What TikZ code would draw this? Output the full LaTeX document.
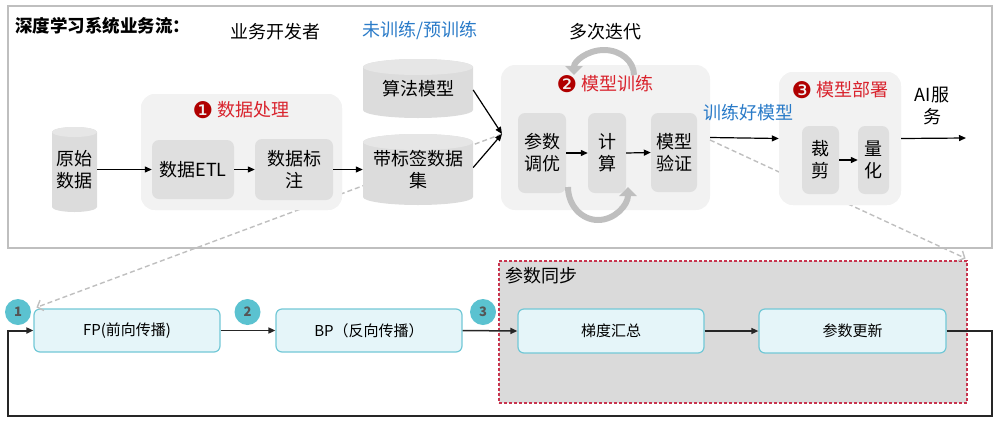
\documentclass[tikz,border=0pt]{standalone}
\usepackage{fontspec}
\setmainfont{Noto Sans CJK SC}
\newfontfamily\dejavu{DejaVu Sans}
\usetikzlibrary{arrows.meta}
\definecolor{framegray}{HTML}{BFBFBF}
\definecolor{grpfill}{HTML}{F2F2F2}
\definecolor{boxfill}{HTML}{DFDFDF}
\definecolor{cylbody}{HTML}{DCDCDC}
\definecolor{cyltop}{HTML}{E6E6E6}
\definecolor{bluetxt}{HTML}{2A7BC8}
\definecolor{redtxt}{HTML}{D9232D}
\definecolor{marker}{HTML}{B00000}
\definecolor{teal}{HTML}{5BC2D0}
\definecolor{numgray}{HTML}{555555}
\definecolor{lightblue}{HTML}{E5F5F9}
\definecolor{bordblue}{HTML}{72C8D6}
\definecolor{syncfill}{HTML}{DADADA}
\definecolor{syncbord}{HTML}{C8344E}
\definecolor{dark}{HTML}{262626}
\tikzset{
  txt/.style={align=center, font=\fontsize{18}{22}\selectfont, inner sep=0pt},
  grp/.style={fill=grpfill, rounded corners=14pt, inner sep=0pt},
  inbox/.style={fill=boxfill, rounded corners=7pt, inner sep=0pt, align=center, font=\fontsize{18}{22}\selectfont},
  grplabel/.style={text=redtxt, font=\fontsize{18}{22}\selectfont, inner sep=0pt},
  arr/.style={draw=black, line width=1.2pt, -{Triangle[length=7pt,width=6pt]}},
  barr/.style={draw=dark, line width=1.5pt, -{Triangle[length=7pt,width=6pt]}},
  gdash/.style={draw=framegray, line width=1.4pt, dash pattern=on 5pt off 3pt, -{Straight Barb[length=5pt,width=11pt]}},
  iter/.style={draw=framegray, line width=6pt, -{Triangle[length=9pt,width=17pt]}},
  flow/.style={fill=lightblue, draw=bordblue, line width=1.2pt, rounded corners=6pt, inner sep=0pt, font=\fontsize{15}{18}\selectfont},
  num/.style={circle, fill=teal, minimum size=26pt, inner sep=0pt, text=numgray, font=\fontsize{13}{15}\selectfont\bfseries},
}
\newcommand\mk[1]{{\dejavu\fontsize{23}{22}\selectfont\color{marker}\raisebox{-1.5pt}{#1}}}
\newcommand\cyl[7]{%
  \fill[cylbody] ({#2-#5},{-#3-#6}) -- ({#2-#5},{-#4+#6}) arc[start angle=180,end angle=360,x radius=#5pt,y radius=#6pt] -- ({#2+#5},{-#3-#6}) arc[start angle=0,end angle=180,x radius=#5pt,y radius=#6pt] -- cycle;
  \fill[cyltop] (#2,{-#3-#6}) ellipse[x radius=#5pt, y radius=#6pt];
  \node[txt, minimum width={2*#5pt}, minimum height={(#4-#3-2*#6)*1pt}] (#1) at (#2,{-(#3+#4)/2}) {#7};
}
\begin{document}
\begin{tikzpicture}[x=1pt,y=1pt]
\useasboundingbox (0,0) rectangle (1001,-424);
% frame
\node[draw=framegray, line width=2.5pt, minimum width=984pt, minimum height=242pt, inner sep=0pt] (frame) at (500,-127) {};
% titles
\node[anchor=west, font=\fontsize{17.5}{20}\selectfont\bfseries, inner sep=0pt] (title) at (15,-26) {深度学习系统业务流：};
\node[txt] (dev) at (275,-32) {业务开发者};
\node[txt, text=bluetxt] (untrained) at (420,-31) {未训练/预训练};
\node[txt] (iterlbl) at (605,-32) {多次迭代};
% coordinates
\coordinate (conv) at (502,-134);
% groups
\node[grp, minimum width=201pt, minimum height=116pt] (dp) at (241.5,-152) {};
\node[grp, minimum width=209pt, minimum height=145pt] (mt) at (605.5,-137.5) {};
\node[grp, minimum width=122pt, minimum height=133pt] (md) at (840,-138.5) {};
% dashed links (behind)
\coordinate (mtout) at (710,-140);
\node[flow, minimum width=186pt, minimum height=43pt] (fp) at (127,-330.5) {FP(前向传播)};
\node[fill=syncfill, draw=syncbord, line width=1.2pt, dash pattern=on 3pt off 2pt, minimum width=468pt, minimum height=142pt, inner sep=0pt] (sync) at (733,-332) {};
\draw[gdash] (conv) -- ([xshift=3pt,yshift=1pt]fp.north west);
\draw[gdash] (mtout) -- ([xshift=-2pt,yshift=2pt]sync.north east);
% redraw groups over dashed lines
\node[grp, minimum width=201pt, minimum height=116pt] (dp2) at (241.5,-152) {};
\node[grp, minimum width=122pt, minimum height=133pt] (md2) at (840,-138.5) {};
% cylinders
\cyl{raw}{74.5}{127}{212}{22.5}{5}{原始\\数据}
\cyl{algo}{418}{59}{118}{55}{8}{算法模型}
\cyl{lab}{418}{134}{205}{55}{8}{带标签数据\\集}
% group labels
\node[grplabel] (dpl) at (241,-110) {\mk{❶} 数据处理};
\node[grplabel] (mtl) at (605,-84) {\mk{❷} 模型训练};
\node[grplabel] (mdl) at (840,-90) {\mk{❸} 模型部署};
% inner boxes
\node[inbox, minimum width=82pt, minimum height=59pt] (etl) at (193,-169.5) {数据ETL};
\node[inbox, minimum width=78pt, minimum height=61pt] (mark) at (294,-169.5) {数据标\\注};
\node[inbox, minimum width=48pt, minimum height=80pt] (tune) at (542,-153) {参数\\调优};
\node[inbox, minimum width=38pt, minimum height=80pt] (calc) at (607,-153) {计\\算};
\node[inbox, minimum width=46pt, minimum height=79pt] (valid) at (674,-152.5) {模型\\验证};
\node[inbox, minimum width=37pt, minimum height=68pt] (prune) at (820.5,-160) {裁\\剪};
\node[inbox, minimum width=31pt, minimum height=68pt] (quant) at (873.5,-160) {量\\化};
% iteration arcs
\draw[iter] (634,-75) arc[start angle=0,end angle=180,x radius=30pt,y radius=25pt];
\draw[iter] (568,-187) arc[start angle=180,end angle=360,x radius=30pt,y radius=33pt];
% texts
\node[txt, text=bluetxt] (trained) at (748,-113) {训练好模型};
\node[txt] (ai) at (932,-106) {AI服\\务};
\coordinate (aiout) at (966,-138);
% arrows top
\draw[arr] (raw.east |- etl.west) -- (etl.west);
\draw[arr] (etl.east) -- (mark.west);
\draw[arr] (mark.east) -- (lab.east -| lab.west);
\draw[arr] ([yshift=-1.5pt]algo.east) -- (conv);
\draw[arr] ([yshift=2pt]lab.east) -- (conv);
\draw[arr] (tune.east) -- (calc.west);
\draw[arr] (calc.east) -- (valid.west);
\draw[arr] (mt.east) -- (md.west);
\draw[arr] (prune.east) -- (quant.west);
\draw[arr] (md.east) -- (aiout);
% bottom
\node[txt] (synclbl) at (541.5,-276) {参数同步};
\node[flow, minimum width=186pt, minimum height=43pt] (bp) at (369,-330.5) {BP（反向传播）};
\node[flow, minimum width=186pt, minimum height=44pt] (gs) at (611,-331) {梯度汇总};
\node[flow, minimum width=187pt, minimum height=44pt] (pu) at (852.5,-331) {参数更新};
\node[num] (n1) at (18,-312) {1};
\node[num] (n2) at (247.5,-312) {2};
\node[num] (n3) at (483,-312) {3};
\draw[barr] (fp.east) -- (bp.west);
\draw[barr] (bp.east) -- (gs.west);
\draw[barr] (gs.east) -- (pu.east -| pu.west);
\draw[draw=dark, line width=2pt, -{Triangle[length=7pt,width=6pt]}] (pu.east) -- (992,-331) -- (992,-416) -- (8,-416) -- (8,-330.5) -- (fp.west);
\end{tikzpicture}
\end{document}
